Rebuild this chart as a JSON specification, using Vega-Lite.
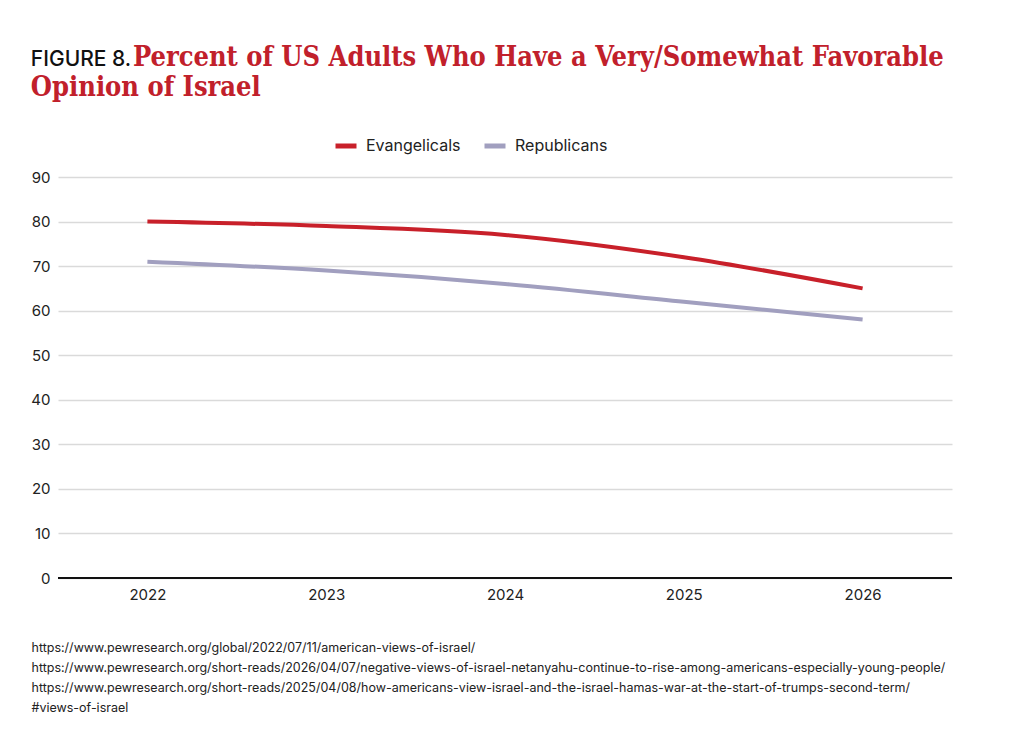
{
  "$schema": "https://vega.github.io/schema/vega-lite/v6.json",
  "width": 894,
  "height": 401,
  "padding": {"left": 30, "top": 44, "right": 40, "bottom": 20},
  "background": "white",
  "config": {
    "view": {"stroke": "transparent"},
    "font": "Inter"
  },
  "title": {
    "text": "FIGURE 8.",
    "subtitle": [
      "\u200b\u2003\u2003\u2003\u2003\u2009Percent of US Adults Who Have a Very/Somewhat Favorable",
      "Opinion of Israel"
    ],
    "anchor": "start",
    "frame": "bounds",
    "font": "Inter",
    "fontSize": 21,
    "fontWeight": 500,
    "color": "#111111",
    "subtitleFont": "DejaVu Serif Condensed",
    "subtitleFontSize": 27,
    "subtitleFontWeight": "bold",
    "subtitleColor": "#c1202b",
    "subtitlePadding": -25,
    "subtitleLineHeight": 30,
    "offset": 27
  },
  "data": {
    "values": [
      {"Year": "2022", "Group": "Evangelicals", "Percent": 80},
      {"Year": "2023", "Group": "Evangelicals", "Percent": 79},
      {"Year": "2024", "Group": "Evangelicals", "Percent": 77},
      {"Year": "2025", "Group": "Evangelicals", "Percent": 72},
      {"Year": "2026", "Group": "Evangelicals", "Percent": 65},
      {"Year": "2022", "Group": "Republicans", "Percent": 71},
      {"Year": "2023", "Group": "Republicans", "Percent": 69},
      {"Year": "2024", "Group": "Republicans", "Percent": 66},
      {"Year": "2025", "Group": "Republicans", "Percent": 62},
      {"Year": "2026", "Group": "Republicans", "Percent": 58}
    ]
  },
  "layer": [
    {
      "mark": {"type": "line", "interpolate": "monotone", "strokeWidth": 4},
      "encoding": {
        "x": {
          "field": "Year",
          "type": "ordinal",
          "scale": {"padding": 0.5},
          "axis": {
            "labelAngle": 0,
            "labelFontSize": 15,
            "labelColor": "#222222",
            "labelPadding": 9,
            "ticks": false,
            "domain": false,
            "grid": false,
            "title": [
              "https://www.pewresearch.org/global/2022/07/11/american-views-of-israel/",
              "https://www.pewresearch.org/short-reads/2026/04/07/negative-views-of-israel-netanyahu-continue-to-rise-among-americans-especially-young-people/",
              "https://www.pewresearch.org/short-reads/2025/04/08/how-americans-view-israel-and-the-israel-hamas-war-at-the-start-of-trumps-second-term/",
              "#views-of-israel"
            ],
            "titleFont": "Inter",
            "titleFontSize": 12.5,
            "titleFontWeight": "normal",
            "titleColor": "#222222",
            "titleAnchor": "start",
            "titleAlign": "left",
            "titleBaseline": "alphabetic",
            "titleX": -27,
            "titleY": 73,
            "titleLineHeight": 20
          }
        },
        "y": {
          "field": "Percent",
          "type": "quantitative",
          "scale": {"domain": [0, 90]},
          "axis": {
            "values": [0, 10, 20, 30, 40, 50, 60, 70, 80, 90],
            "title": null,
            "domain": false,
            "ticks": false,
            "labelFontSize": 15,
            "labelColor": "#222222",
            "labelPadding": 8,
            "gridColor": "#dadada",
            "gridWidth": 1.5
          }
        },
        "color": {
          "field": "Group",
          "type": "nominal",
          "scale": {
            "domain": ["Evangelicals", "Republicans"],
            "range": ["#c8202a", "#a19fbf"]
          },
          "legend": {
            "title": null,
            "orient": "none",
            "direction": "horizontal",
            "legendX": 275,
            "legendY": -44,
            "symbolType": "stroke",
            "symbolSize": 441,
            "symbolStrokeWidth": 5,
            "labelFontSize": 16,
            "labelColor": "#222222",
            "labelOffset": 7,
            "columnPadding": 13,
            "padding": 0
          }
        }
      }
    },
    {
      "data": {"values": [{"base": 0}]},
      "mark": {"type": "rule", "color": "#111111", "strokeWidth": 2},
      "encoding": {
        "y": {"field": "base", "type": "quantitative"}
      }
    }
  ]
}
